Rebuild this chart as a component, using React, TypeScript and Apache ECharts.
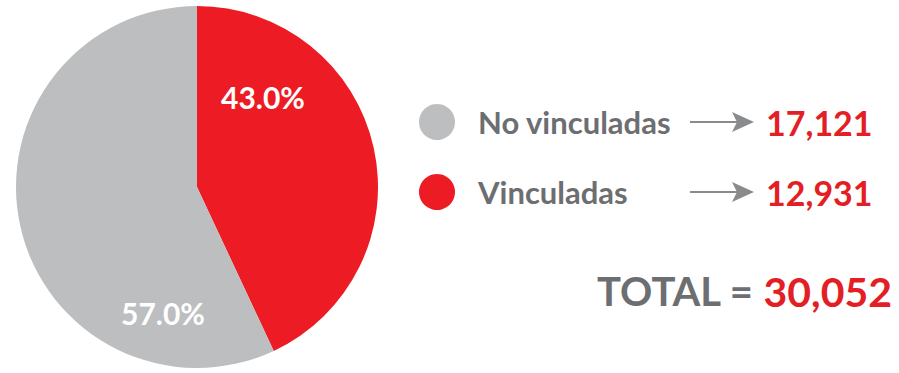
import React, { useEffect, useRef } from "react";
import * as echarts from "echarts";

const categories = ["Vinculadas", "No vinculadas"];
const values = [12931, 17121];
const colors = ["#ed1c24", "#bcbec0"];
const total = 30052;
const legendOrder = [1, 0];

const fmt = (n: number) => n.toLocaleString("en-US");

export default function App() {
  const ref = useRef<HTMLDivElement>(null);
  useEffect(() => {
    if (!ref.current) return;
    const chart = echarts.init(ref.current, undefined, { renderer: "svg" });
    const font = "Lato, 'Open Sans', sans-serif";
    const labelPos: Record<number, [number, number]> = { 0: [263, 97], 1: [163, 313] };
    const graphics: any[] = [];
    legendOrder.forEach((idx, i) => {
      const y = 122 + i * 70;
      graphics.push({
        type: "circle",
        shape: { cx: 437, cy: y, r: 18 },
        style: { fill: colors[idx] },
      });
      graphics.push({
        type: "text",
        x: 478,
        y,
        style: {
          text: categories[idx],
          fill: "#6d6e71",
          font: `bold 31px ${font}`,
          verticalAlign: "middle",
          align: "left",
        },
      });
      graphics.push({
        type: "line",
        shape: { x1: 690, y1: y, x2: 740, y2: y },
        style: { stroke: "#8a8b8d", lineWidth: 2 },
      });
      graphics.push({
        type: "polygon",
        shape: { points: [[732, y - 10], [754, y], [732, y + 10], [737, y]] },
        style: { fill: "#8a8b8d" },
      });
      graphics.push({
        type: "text",
        x: 766,
        y,
        style: {
          text: fmt(values[idx]),
          fill: "#e31e24",
          font: `bold 34px ${font}`,
          verticalAlign: "middle",
          align: "left",
        },
      });
    });
    graphics.push({
      type: "text",
      x: 597,
      y: 291,
      style: {
        text: "TOTAL =",
        fill: "#6d6e71",
        font: `bold 40px ${font}`,
        verticalAlign: "middle",
        align: "left",
      },
    });
    graphics.push({
      type: "text",
      x: 892,
      y: 291,
      style: {
        text: fmt(total),
        fill: "#e31e24",
        font: `bold 41px ${font}`,
        verticalAlign: "middle",
        align: "right",
      },
    });

    chart.setOption({
      animation: false,
      series: [
        {
          type: "pie",
          center: [197, 187],
          radius: 181,
          startAngle: 90,
          clockwise: true,
          silent: true,
          data: categories.map((c, i) => ({
            name: c,
            value: values[i],
            itemStyle: { color: colors[i] },
          })),
          label: {
            show: true,
            position: "inside",
            formatter: (p: any) => `${p.percent.toFixed(1)}%`,
            color: "#ffffff",
            fontFamily: font,
            fontWeight: "bold",
            fontSize: 30,
          },
          labelLine: { show: false },
          labelLayout: (p: any) => {
            const pos = labelPos[p.dataIndex];
            return { x: pos[0], y: pos[1], align: "center", verticalAlign: "middle" };
          },
        },
      ],
      graphic: graphics,
    });
    return () => chart.dispose();
  }, []);
  return (
    <div
      ref={ref}
      style={{ position: "fixed", left: 0, top: 0, width: 899, height: 373, background: "#ffffff" }}
    />
  );
}
